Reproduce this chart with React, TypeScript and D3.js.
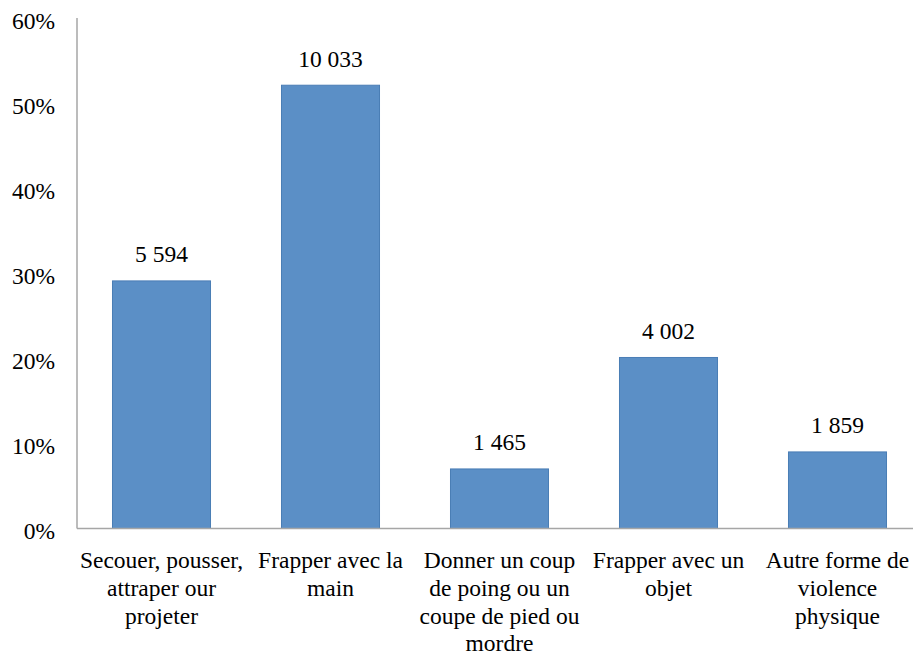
import React from "react";
import * as d3 from "d3";

const categories: string[][] = [
  ["Secouer, pousser,", "attraper our", "projeter"],
  ["Frapper avec la", "main"],
  ["Donner un coup", "de poing ou un", "coupe de pied ou", "mordre"],
  ["Frapper avec un", "objet"],
  ["Autre forme de", "violence", "physique"],
];
const percents: number[] = [29.1, 52.1, 7.0, 20.1, 9.0];
const counts: string[] = ["5 594", "10 033", "1 465", "4 002", "1 859"];
const yTicks: number[] = [0, 10, 20, 30, 40, 50, 60];

const W = 913;
const H = 657;
const left = 77;
const right = 922;
const top = 18;
const bottom = 528.5;
const font = "Liberation Serif";
const fs = 23.5;

export default function App() {
  const keys = categories.map((_, i) => String(i));
  const x = d3.scaleBand<string>().domain(keys).range([left, right]).paddingInner(0.42).paddingOuter(0.21);
  const y = d3.scaleLinear().domain([0, 60]).range([bottom, top]);
  const ts = { fontFamily: font, fontSize: fs };
  return (
    <svg width={W} height={H} style={{ position: "absolute", left: 0, top: 0, background: "#fff" }}>
      {yTicks.map((t) => (
        <text key={t} x={55} y={y(t) + 10.5} textAnchor="end" style={ts} fill="#000">
          {t}%
        </text>
      ))}
      {percents.map((v, i) => {
        const bx = x(String(i))!;
        const bw = x.bandwidth();
        return (
          <g key={i}>
            <rect x={bx} y={y(v)} width={bw} height={y(0) - y(v)} fill="#5B8FC6" stroke="#4A7DB5" strokeWidth={1} />
            <text x={bx + bw / 2} y={y(v) - 18.5} textAnchor="middle" style={ts} fill="#000">
              {counts[i]}
            </text>
            {categories[i].map((line, j) => (
              <text key={j} x={bx + bw / 2} y={568 + j * 27.8} textAnchor="middle" style={ts} fill="#000">
                {line}
              </text>
            ))}
          </g>
        );
      })}
      <line x1={left} x2={left} y1={top} y2={bottom} stroke="#A6A6A6" strokeWidth={1.5} />
      <line x1={left} x2={W} y1={bottom} y2={bottom} stroke="#A6A6A6" strokeWidth={1.5} />
    </svg>
  );
}
